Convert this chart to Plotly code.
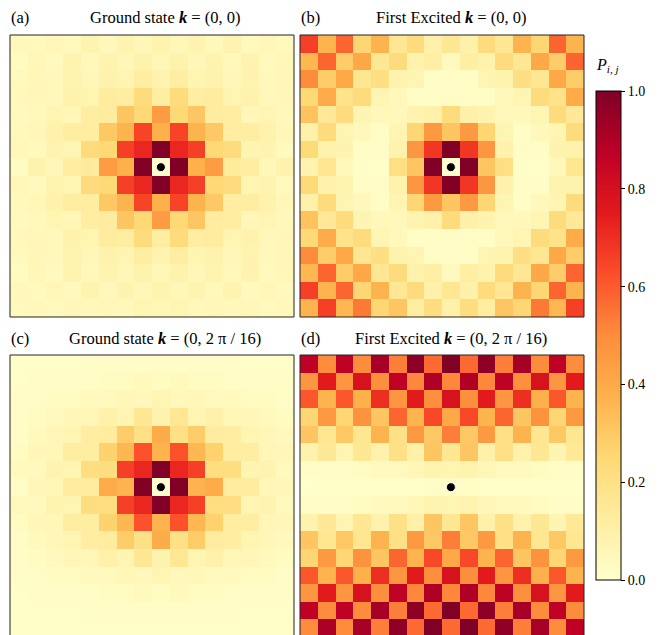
import plotly.graph_objects as go

W, H = 660, 635

# ---------------- data ----------------
cols = list(range(16))
rows = list(range(16))
site_col = [8]
site_row = [7]
cbar_ticks = [0.0, 0.2, 0.4, 0.6, 0.8, 1.0]
cbar_labels = ["0.0", "0.2", "0.4", "0.6", "0.8", "1.0"]

titles = [
    "Ground state <b><i>k</i></b> = (0, 0)",
    "First Excited <b><i>k</i></b> = (0, 0)",
    "Ground state <b><i>k</i></b> = (0, 2 π / 16)",
    "First Excited <b><i>k</i></b> = (0, 2 π / 16)",
]
tags = ["(a)", "(b)", "(c)", "(d)"]

P_ground_k0 = [
    [0.05,0.04,0.06,0.04,0.08,0.05,0.08,0.06,0.08,0.06,0.08,0.05,0.08,0.04,0.06,0.04],
    [0.03,0.06,0.04,0.08,0.05,0.08,0.06,0.09,0.06,0.09,0.06,0.08,0.05,0.08,0.04,0.06],
    [0.04,0.06,0.05,0.08,0.06,0.09,0.07,0.12,0.08,0.12,0.07,0.09,0.06,0.08,0.05,0.06],
    [0.05,0.06,0.05,0.09,0.07,0.13,0.12,0.23,0.12,0.23,0.12,0.13,0.07,0.09,0.05,0.06],
    [0.04,0.05,0.07,0.06,0.12,0.13,0.31,0.25,0.45,0.25,0.31,0.13,0.12,0.06,0.07,0.05],
    [0.05,0.06,0.09,0.12,0.12,0.30,0.37,0.65,0.38,0.65,0.37,0.30,0.12,0.12,0.09,0.06],
    [0.06,0.04,0.08,0.07,0.23,0.25,0.66,0.72,1.00,0.72,0.66,0.25,0.23,0.07,0.08,0.04],
    [0.03,0.09,0.06,0.12,0.14,0.45,0.38,1.00,0.00,1.00,0.38,0.45,0.14,0.12,0.06,0.09],
    [0.06,0.04,0.08,0.07,0.23,0.25,0.66,0.72,1.00,0.72,0.66,0.25,0.23,0.07,0.08,0.04],
    [0.05,0.06,0.09,0.12,0.12,0.30,0.37,0.65,0.38,0.65,0.37,0.30,0.12,0.12,0.09,0.06],
    [0.04,0.05,0.07,0.06,0.12,0.13,0.31,0.25,0.45,0.25,0.31,0.13,0.12,0.06,0.07,0.05],
    [0.05,0.06,0.05,0.09,0.07,0.13,0.12,0.23,0.12,0.23,0.12,0.13,0.07,0.09,0.05,0.06],
    [0.04,0.06,0.05,0.08,0.06,0.09,0.07,0.12,0.08,0.12,0.07,0.09,0.06,0.08,0.05,0.06],
    [0.03,0.06,0.04,0.08,0.05,0.08,0.06,0.09,0.06,0.09,0.06,0.08,0.05,0.08,0.04,0.06],
    [0.05,0.04,0.06,0.04,0.08,0.05,0.08,0.06,0.08,0.06,0.08,0.05,0.08,0.04,0.06,0.04],
    [0.04,0.05,0.04,0.06,0.05,0.06,0.05,0.07,0.06,0.07,0.05,0.06,0.05,0.06,0.04,0.05],
]

P_excited_k0 = [
    [0.66,0.37,0.58,0.26,0.37,0.16,0.23,0.10,0.16,0.10,0.23,0.16,0.37,0.26,0.58,0.37],
    [0.36,0.58,0.29,0.41,0.16,0.23,0.09,0.11,0.04,0.11,0.09,0.23,0.16,0.41,0.29,0.58],
    [0.50,0.29,0.41,0.17,0.21,0.08,0.07,0.02,0.02,0.02,0.07,0.08,0.21,0.17,0.41,0.29],
    [0.25,0.40,0.19,0.23,0.07,0.05,0.02,0.02,0.02,0.02,0.02,0.05,0.07,0.23,0.19,0.40],
    [0.32,0.15,0.23,0.07,0.05,0.05,0.08,0.10,0.23,0.10,0.08,0.05,0.05,0.07,0.23,0.15],
    [0.10,0.23,0.07,0.05,0.02,0.07,0.26,0.46,0.31,0.46,0.26,0.07,0.02,0.05,0.07,0.23],
    [0.24,0.09,0.08,0.02,0.02,0.09,0.47,0.68,1.00,0.68,0.47,0.09,0.02,0.02,0.08,0.09],
    [0.08,0.17,0.05,0.01,0.01,0.21,0.31,1.00,0.00,1.00,0.31,0.21,0.01,0.01,0.05,0.17],
    [0.24,0.09,0.08,0.02,0.02,0.09,0.47,0.68,1.00,0.68,0.47,0.09,0.02,0.02,0.08,0.09],
    [0.10,0.23,0.07,0.05,0.02,0.07,0.26,0.46,0.31,0.46,0.26,0.07,0.02,0.05,0.07,0.23],
    [0.32,0.15,0.23,0.07,0.05,0.05,0.08,0.10,0.23,0.10,0.08,0.05,0.05,0.07,0.23,0.15],
    [0.25,0.40,0.19,0.23,0.07,0.05,0.02,0.02,0.02,0.02,0.02,0.05,0.07,0.23,0.19,0.40],
    [0.50,0.29,0.41,0.17,0.21,0.08,0.07,0.02,0.02,0.02,0.07,0.08,0.21,0.17,0.41,0.29],
    [0.36,0.58,0.29,0.41,0.16,0.23,0.09,0.11,0.04,0.11,0.09,0.23,0.16,0.41,0.29,0.58],
    [0.66,0.37,0.58,0.26,0.37,0.16,0.23,0.10,0.16,0.10,0.23,0.16,0.37,0.26,0.58,0.37],
    [0.37,0.66,0.36,0.54,0.26,0.31,0.12,0.22,0.10,0.22,0.12,0.31,0.26,0.54,0.36,0.66],
]

P_ground_k1 = [
    [0.01,0.01,0.01,0.01,0.02,0.02,0.02,0.02,0.02,0.02,0.02,0.02,0.02,0.01,0.01,0.01],
    [0.01,0.02,0.02,0.02,0.02,0.03,0.03,0.04,0.03,0.04,0.03,0.03,0.02,0.02,0.02,0.02],
    [0.02,0.02,0.03,0.03,0.04,0.04,0.06,0.05,0.07,0.05,0.06,0.04,0.04,0.03,0.03,0.02],
    [0.02,0.03,0.04,0.06,0.06,0.10,0.07,0.16,0.08,0.16,0.07,0.10,0.06,0.06,0.04,0.03],
    [0.02,0.04,0.06,0.07,0.12,0.13,0.29,0.20,0.40,0.20,0.29,0.13,0.12,0.07,0.06,0.04],
    [0.03,0.06,0.06,0.12,0.12,0.27,0.36,0.62,0.37,0.62,0.36,0.27,0.12,0.12,0.06,0.06],
    [0.04,0.04,0.08,0.07,0.22,0.22,0.66,0.72,1.00,0.72,0.66,0.22,0.22,0.07,0.08,0.04],
    [0.02,0.06,0.06,0.13,0.13,0.40,0.37,1.00,0.00,1.00,0.37,0.40,0.13,0.13,0.06,0.06],
    [0.04,0.04,0.08,0.07,0.22,0.22,0.66,0.72,1.00,0.72,0.66,0.22,0.22,0.07,0.08,0.04],
    [0.03,0.06,0.06,0.12,0.12,0.27,0.36,0.62,0.37,0.62,0.36,0.27,0.12,0.12,0.06,0.06],
    [0.02,0.04,0.06,0.07,0.12,0.13,0.29,0.20,0.40,0.20,0.29,0.13,0.12,0.07,0.06,0.04],
    [0.02,0.03,0.04,0.06,0.06,0.10,0.07,0.16,0.08,0.16,0.07,0.10,0.06,0.06,0.04,0.03],
    [0.02,0.02,0.03,0.03,0.04,0.04,0.06,0.05,0.07,0.05,0.06,0.04,0.04,0.03,0.03,0.02],
    [0.01,0.02,0.02,0.02,0.02,0.03,0.03,0.04,0.03,0.04,0.03,0.03,0.02,0.02,0.02,0.02],
    [0.01,0.01,0.01,0.01,0.02,0.02,0.02,0.02,0.02,0.02,0.02,0.02,0.02,0.01,0.01,0.01],
    [0.01,0.01,0.01,0.01,0.01,0.01,0.01,0.01,0.01,0.01,0.01,0.01,0.01,0.01,0.01,0.01],
]

P_excited_k1 = [
    [0.87,0.50,0.87,0.50,0.92,0.53,0.97,0.57,1.00,0.57,0.97,0.53,0.92,0.50,0.87,0.50],
    [0.47,0.75,0.47,0.79,0.49,0.87,0.51,0.90,0.51,0.90,0.51,0.87,0.49,0.79,0.47,0.75],
    [0.61,0.37,0.61,0.38,0.70,0.47,0.75,0.49,0.79,0.49,0.75,0.47,0.70,0.38,0.61,0.37],
    [0.26,0.46,0.26,0.48,0.31,0.58,0.37,0.64,0.41,0.64,0.37,0.58,0.31,0.48,0.26,0.46],
    [0.31,0.17,0.30,0.17,0.37,0.20,0.46,0.30,0.53,0.30,0.46,0.20,0.37,0.17,0.30,0.17],
    [0.09,0.15,0.07,0.16,0.09,0.20,0.10,0.31,0.16,0.31,0.10,0.20,0.09,0.16,0.07,0.15],
    [0.02,0.02,0.02,0.03,0.04,0.04,0.06,0.08,0.07,0.08,0.06,0.04,0.04,0.03,0.02,0.02],
    [0.00,0.01,0.01,0.01,0.01,0.01,0.01,0.02,0.02,0.02,0.01,0.01,0.01,0.01,0.01,0.01],
    [0.02,0.02,0.02,0.03,0.04,0.04,0.06,0.08,0.07,0.08,0.06,0.04,0.04,0.03,0.02,0.02],
    [0.09,0.15,0.07,0.16,0.09,0.20,0.10,0.31,0.16,0.31,0.10,0.20,0.09,0.16,0.07,0.15],
    [0.31,0.17,0.30,0.17,0.37,0.20,0.46,0.30,0.53,0.30,0.46,0.20,0.37,0.17,0.30,0.17],
    [0.26,0.46,0.26,0.48,0.31,0.58,0.37,0.64,0.41,0.64,0.37,0.58,0.31,0.48,0.26,0.46],
    [0.61,0.37,0.61,0.38,0.70,0.47,0.75,0.49,0.79,0.49,0.75,0.47,0.70,0.38,0.61,0.37],
    [0.47,0.75,0.47,0.79,0.49,0.87,0.51,0.90,0.51,0.90,0.51,0.87,0.49,0.79,0.47,0.75],
    [0.87,0.50,0.87,0.50,0.92,0.53,0.97,0.57,1.00,0.57,0.97,0.53,0.92,0.50,0.87,0.50],
    [0.50,0.91,0.50,0.92,0.53,0.97,0.57,1.00,0.57,1.00,0.57,0.97,0.53,0.92,0.50,0.87],
]

matrices = [P_ground_k0, P_excited_k0, P_ground_k1, P_excited_k1]

# ---------------- style ----------------
YLORRD = [
    [0.000, "#ffffcc"], [0.125, "#ffeda0"], [0.250, "#fed976"],
    [0.375, "#feb24c"], [0.500, "#fd8d3c"], [0.625, "#fc4e2a"],
    [0.750, "#e31a1c"], [0.875, "#bd0026"], [1.000, "#800026"],
]
SERIF = "Liberation Serif, Times New Roman, serif"
TITLE_SIZE = 16.5

# panel boxes in pixels: (left, right, top, bottom)
boxes = [(10, 294, 35, 317), (300, 584, 35, 317),
         (10, 294, 355, 637), (300, 584, 355, 637)]

fig = go.Figure()
layout = dict(
    width=W, height=H, margin=dict(l=0, r=0, t=0, b=0),
    paper_bgcolor="white", plot_bgcolor="white", showlegend=False,
    font=dict(family=SERIF, color="black"),
)
shapes = []
annotations = []

for i, (z, box) in enumerate(zip(matrices, boxes)):
    n = i + 1
    xa = "x" if n == 1 else f"x{n}"
    ya = "y" if n == 1 else f"y{n}"
    left, right, top, bottom = box
    ytop_p = 1 - top / H
    ybot_p = max(0.0, 1 - bottom / H)
    if bottom > H:
        cut = (bottom - H) / (bottom - top) * 16
        yrange = [15.5 - cut, -0.5]
    else:
        yrange = [15.5, -0.5]
    trace = go.Heatmap(
        z=z, x=cols, y=rows, zmin=0, zmax=1, colorscale=YLORRD,
        xaxis=xa, yaxis=ya, showscale=(n == 1), hoverinfo="skip",
    )
    if n == 1:
        trace.colorbar = dict(
            thickness=25, thicknessmode="pixels",
            len=489, lenmode="pixels",
            x=595.5 / W, xanchor="left", xpad=0,
            y=1 - 91 / H, yanchor="top", ypad=0,
            outlinewidth=1, outlinecolor="black",
            tickvals=cbar_ticks, ticktext=cbar_labels,
            ticks="outside", ticklen=4, tickwidth=1, tickcolor="black",
            tickfont=dict(family=SERIF, size=14, color="black"),
        )
    fig.add_trace(trace)
    fig.add_trace(go.Scatter(
        x=site_col, y=site_row, mode="markers", xaxis=xa, yaxis=ya,
        marker=dict(color="black", size=9, line=dict(color="white", width=1)),
        hoverinfo="skip",
    ))
    axkey_x = "xaxis" if n == 1 else f"xaxis{n}"
    axkey_y = "yaxis" if n == 1 else f"yaxis{n}"
    layout[axkey_x] = dict(domain=[left / W, right / W], range=[-0.5, 15.5],
                           showgrid=False, zeroline=False, showticklabels=False,
                           ticks="", anchor=ya, fixedrange=True)
    layout[axkey_y] = dict(domain=[ybot_p, ytop_p], range=yrange,
                           showgrid=False, zeroline=False, showticklabels=False,
                           ticks="", anchor=xa, fixedrange=True)
    shapes.append(dict(type="rect", xref="paper", yref="paper",
                       x0=left / W, x1=right / W,
                       y0=1 - bottom / H, y1=1 - top / H,
                       line=dict(color="#222222", width=1), layer="above"))
    ty = 17 if top < 100 else 338
    annotations.append(dict(text=tags[i], xref="paper", yref="paper",
                            x=(left - 1) / W, y=1 - ty / H, xanchor="left", yanchor="middle",
                            showarrow=False, font=dict(family=SERIF, size=TITLE_SIZE, color="black")))
    annotations.append(dict(text=titles[i], xref="paper", yref="paper",
                            x=(165 if left < 100 else 451) / W, y=1 - ty / H,
                            xanchor="center", yanchor="middle", showarrow=False,
                            font=dict(family=SERIF, size=TITLE_SIZE, color="black")))

annotations.append(dict(text="<i>P</i><sub><i>i, j</i></sub>", xref="paper", yref="paper",
                        x=607 / W, y=1 - 66 / H, xanchor="center", yanchor="middle",
                        showarrow=False, font=dict(family=SERIF, size=16, color="black")))

layout["shapes"] = shapes
layout["annotations"] = annotations
fig.update_layout(**layout)
fig.write_html("out.html")
